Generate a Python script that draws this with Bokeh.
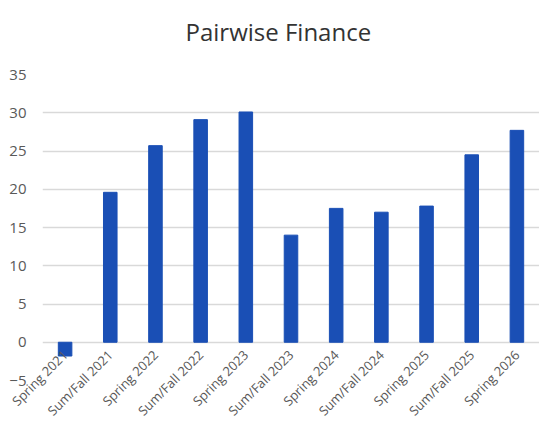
import math
from bokeh.plotting import figure
from bokeh.models import Range1d, FixedTicker, ColumnDataSource, Title
from bokeh.embed import file_html
from bokeh.resources import INLINE

title_text = "Pairwise Finance"
categories = ["Spring 2021", "Sum/Fall 2021", "Spring 2022", "Sum/Fall 2022",
              "Spring 2023", "Sum/Fall 2023", "Spring 2024", "Sum/Fall 2024",
              "Spring 2025", "Sum/Fall 2025", "Spring 2026"]
values = [-1.8, 19.6, 25.7, 29.1, 30.1, 14.0, 17.5, 17.0, 17.8, 24.5, 27.7]
y_ticks = [-5, 0, 5, 10, 15, 20, 25, 30, 35]

src = ColumnDataSource(dict(cat=categories, val=values))

p = figure(x_range=categories, y_range=Range1d(-5, 35), width=539, height=428,
           output_backend="svg", toolbar_location=None,
           min_border_left=42, min_border_right=0, min_border_top=74, min_border_bottom=47)

p.vbar(x="cat", top="val", bottom=0, width=0.3, source=src,
       fill_color="#1a4fb5", line_color="#1a4fb5")

# spacer panel next to the frame, then the chart title above it
p.add_layout(Title(text=" ", text_font_size="10px", standoff=9), "above")
p.add_layout(Title(text=title_text, align="left", offset=143, standoff=10,
                   text_font="Open Sans", text_font_size="24px",
                   text_font_style="normal", text_color="#333333"), "above")

p.outline_line_color = None
p.xgrid.grid_line_color = None
p.ygrid.grid_line_color = "#d9d9d9"
p.ygrid.grid_line_width = 1.5
p.yaxis.ticker = FixedTicker(ticks=y_ticks)

for ax in (p.xaxis, p.yaxis):
    ax.axis_line_color = None
    ax.major_tick_line_color = None
    ax.minor_tick_line_color = None
    ax.major_tick_out = 0
    ax.minor_tick_out = 0
    ax.major_tick_in = 0
    ax.minor_tick_in = 0
    ax.major_label_text_font = "Open Sans"
    ax.major_label_text_color = "#595959"

p.yaxis.major_label_text_font_size = "15px"
p.yaxis.major_label_standoff = 16
p.xaxis.major_label_text_font_size = "13px"
p.xaxis.major_label_orientation = math.pi / 4
p.xaxis.major_label_standoff = -28

open("out.html", "w").write(file_html(p, INLINE))
